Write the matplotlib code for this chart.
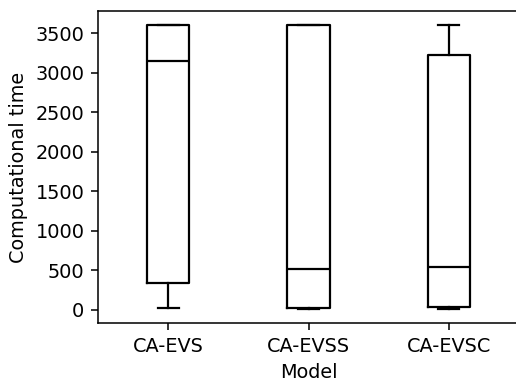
import matplotlib
matplotlib.use("Agg")
import matplotlib.pyplot as plt

models = ["CA-EVS", "CA-EVSS", "CA-EVSC"]
whisker_low = [25, 10, 10]
q1 = [342, 20, 35]
median = [3145, 520, 545]
q3 = [3600, 3600, 3220]
whisker_high = [3600, 3600, 3600]

stats = []
for i, m in enumerate(models):
    stats.append(dict(label=m, whislo=whisker_low[i], q1=q1[i], med=median[i],
                      q3=q3[i], whishi=whisker_high[i], fliers=[]))

s = 100 / 72
fig = plt.figure(figsize=(5.16, 3.83), dpi=100)
ax = fig.add_axes([98/516, 60/383, 421/516, 312/383])
black = dict(color="black", linewidth=1.15*s)
ax.bxp(stats, showfliers=False,
       boxprops=black, medianprops=black, whiskerprops=black, capprops=black)
ax.set_xlabel("Model", fontsize=10*s, labelpad=4*s)
ax.set_ylabel("Computational time", fontsize=10*s, labelpad=4*s)
ax.tick_params(labelsize=10*s, length=3.5*s, width=0.8*s, pad=3.5*s)
for sp in ax.spines.values():
    sp.set_linewidth(0.8*s)
fig.savefig("out.png", dpi=100)
